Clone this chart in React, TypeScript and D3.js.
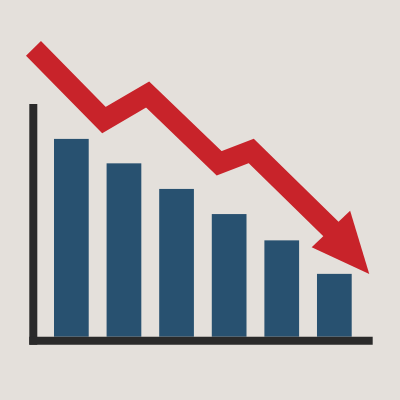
import * as d3 from 'd3';

// ---------------------------------------------------------------------------
// Data
// ---------------------------------------------------------------------------
const periods = ['P1', 'P2', 'P3', 'P4', 'P5', 'P6'];
const barValues = [85, 74.5, 63.5, 52.7, 41.4, 27];

// trend arrow shaft, in (period index, value) units
const arrowPos = [-0.72, 0.62, 1.45, 2.81, 3.42, 4.95];
const arrowVal = [123.9, 93.1, 104.1, 74.5, 79.8, 46.0];

// arrow head: wing, tip, wing
const headPos = [5.3, 5.664, 4.569];
const headVal = [54.1, 26.9, 38.4];

// ---------------------------------------------------------------------------
// Colors
// ---------------------------------------------------------------------------
const BG = '#e4e0db';
const BAR = '#285170';
const AXIS = '#2a2a2a';
const RED = '#c8232a';

const W = 400;
const H = 400;

export default function App() {
  const x = d3
    .scaleBand<string>()
    .domain(periods)
    .range([54, 351.7])
    .paddingInner(0.34)
    .paddingOuter(0);

  const y = d3.scaleLinear().domain([0, 100]).range([336.7, 104]);

  const bw = x.bandwidth();
  const xPos = d3
    .scaleLinear()
    .domain([0, periods.length - 1])
    .range([(x(periods[0]) ?? 0) + bw / 2, (x(periods[periods.length - 1]) ?? 0) + bw / 2]);

  const shaft = d3
    .line<number>()
    .x((_, i) => xPos(arrowPos[i]))
    .y((d) => y(d));

  const head = d3
    .line<number>()
    .x((_, i) => xPos(headPos[i]))
    .y((d) => y(d));

  return (
    <svg
      width={W}
      height={H}
      style={{ position: 'absolute', left: 0, top: 0 }}
    >
      <rect x={0} y={0} width={W} height={H} fill={BG} />

      {/* bars */}
      {barValues.map((v, i) => (
        <rect
          key={periods[i]}
          x={x(periods[i])}
          y={y(v)}
          width={bw}
          height={y(0) - y(v)}
          fill={BAR}
        />
      ))}

      {/* axes */}
      <line x1={33.3} x2={33.3} y1={y(100)} y2={y(0) + 8} stroke={AXIS} strokeWidth={8} />
      <line x1={29.3} x2={372.7} y1={y(0) + 4} y2={y(0) + 4} stroke={AXIS} strokeWidth={8} />

      {/* trend arrow */}
      <path
        d={shaft(arrowVal) ?? ''}
        fill="none"
        stroke={RED}
        strokeWidth={21}
        strokeLinejoin="miter"
        strokeLinecap="butt"
      />
      <path d={(head(headVal) ?? '') + 'Z'} fill={RED} />
    </svg>
  );
}
